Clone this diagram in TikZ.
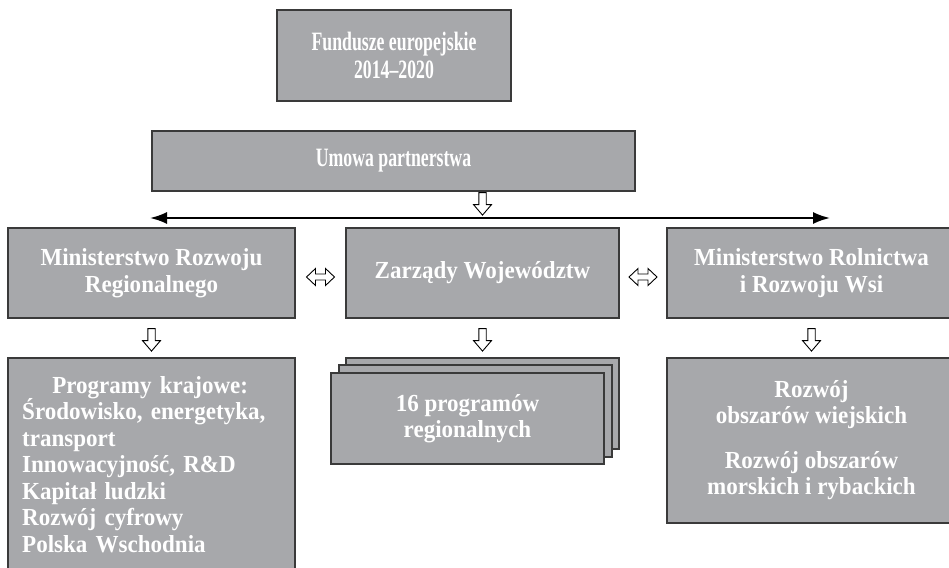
\documentclass[tikz,border=0pt]{standalone}
\usepackage{fontspec}
\setmainfont{Liberation Serif}
\newfontfamily\condfont{Liberation Serif}[FakeStretch=0.67]
\newfontfamily\mainbf{Liberation Serif}[FakeStretch=0.94]
\usetikzlibrary{arrows.meta,calc}
\definecolor{boxfill}{HTML}{A7A8AB}
\definecolor{boxline}{HTML}{3A3A3A}
\begin{document}
\begin{tikzpicture}[x=1pt,y=-1pt,
  box/.style={draw=boxline, fill=boxfill, line width=1.2pt, inner sep=0pt, text=white, align=center,
    font=\mainbf\bfseries\fontsize{24.5}{27}\selectfont},
  condtext/.style={font=\condfont\bfseries\fontsize{26.5}{28}\selectfont},
  hollow/.style={draw=black, fill=white, line width=0.9pt, line join=miter},
  downarr/.pic={\path[hollow] (-3.7,0) -- (3.7,0) -- (3.7,12) -- (9,12) -- (0,22.5) -- (-9,12) -- (-3.7,12) -- cycle;},
  lrarr/.pic={\path[hollow] (-14,0) -- (-5,-8.5) -- (-5,-3) -- (5,-3) -- (5,-8.5) -- (14,0) -- (5,8.5) -- (5,3) -- (-5,3) -- (-5,8.5) -- cycle;},
  bigtip/.tip={Latex[length=17pt,width=12pt]}
]
\clip (0,0) rectangle (949,567);
\fill[white] (0,0) rectangle (949,567);

% top boxes
\node[box, condtext, minimum width=234, minimum height=91] (fund) at (394,55.5) {Fundusze europejskie\\2014–2020};
\node[box, condtext, minimum width=483, minimum height=60] (umowa) at (393.5,161) {Umowa partnerstwa};

% middle row
\node[box, minimum width=287, minimum height=90] (lbox) at (151.5,273) {Ministerstwo Rozwoju\\Regionalnego};
\node[box, minimum width=273, minimum height=90] (mbox) at (482.5,273) {Zarządy Województw};
\node[box, minimum width=289, minimum height=90] (rbox) at (811.5,273) {Ministerstwo Rolnictwa\\i Rozwoju Wsi};

% bottom row
\node[box, minimum width=287, minimum height=212] (progk) at (151.5,464) {};
\node[anchor=base west, inner sep=0pt, text=white, text width=256pt, align=left,
  font=\mainbf\bfseries\fontsize{24.5}{26.5}\selectfont] (progt) at (22,393)
  {\makebox[\linewidth]{Programy krajowe:}\\Środowisko, energetyka,\\transport\\Innowacyjność, R\&D\\Kapitał ludzki\\Rozwój cyfrowy\\Polska Wschodnia};

\node[box, minimum width=273, minimum height=91] (s3) at (482.5,403.5) {};
\node[box, minimum width=273, minimum height=92] (s2) at (475.5,411) {};
\node[box, minimum width=273, minimum height=91, font=\mainbf\bfseries\fontsize{24.5}{25.5}\selectfont] (s1) at (467.5,418.5) {16 programów\\regionalnych};

\node[box, minimum width=289, minimum height=165, font=\mainbf\bfseries\fontsize{24.5}{26}\selectfont] (rbot) at (811.5,440.5)
  {Rozwój\\obszarów wiejskich\\[19pt]Rozwój obszarów\\morskich i rybackich};

% long double-headed arrow
\coordinate (la) at (150,218);
\coordinate (ra) at (830,218);
\draw[line width=2pt, bigtip-bigtip] (la) -- (ra);

% hollow arrows
\pic at ($(umowa.south -| mbox.north)+(0,1)$) {downarr};
\pic at ($(lbox.south)+(0,10)$) {downarr};
\pic at ($(mbox.south)+(0,10)$) {downarr};
\pic at ($(rbox.south)+(0,10)$) {downarr};
\pic at ($(lbox.east)!0.5!(mbox.west)+(0,4)$) {lrarr};
\pic at ($(mbox.east)!0.5!(rbox.west)+(0,4)$) {lrarr};
\end{tikzpicture}
\end{document}
